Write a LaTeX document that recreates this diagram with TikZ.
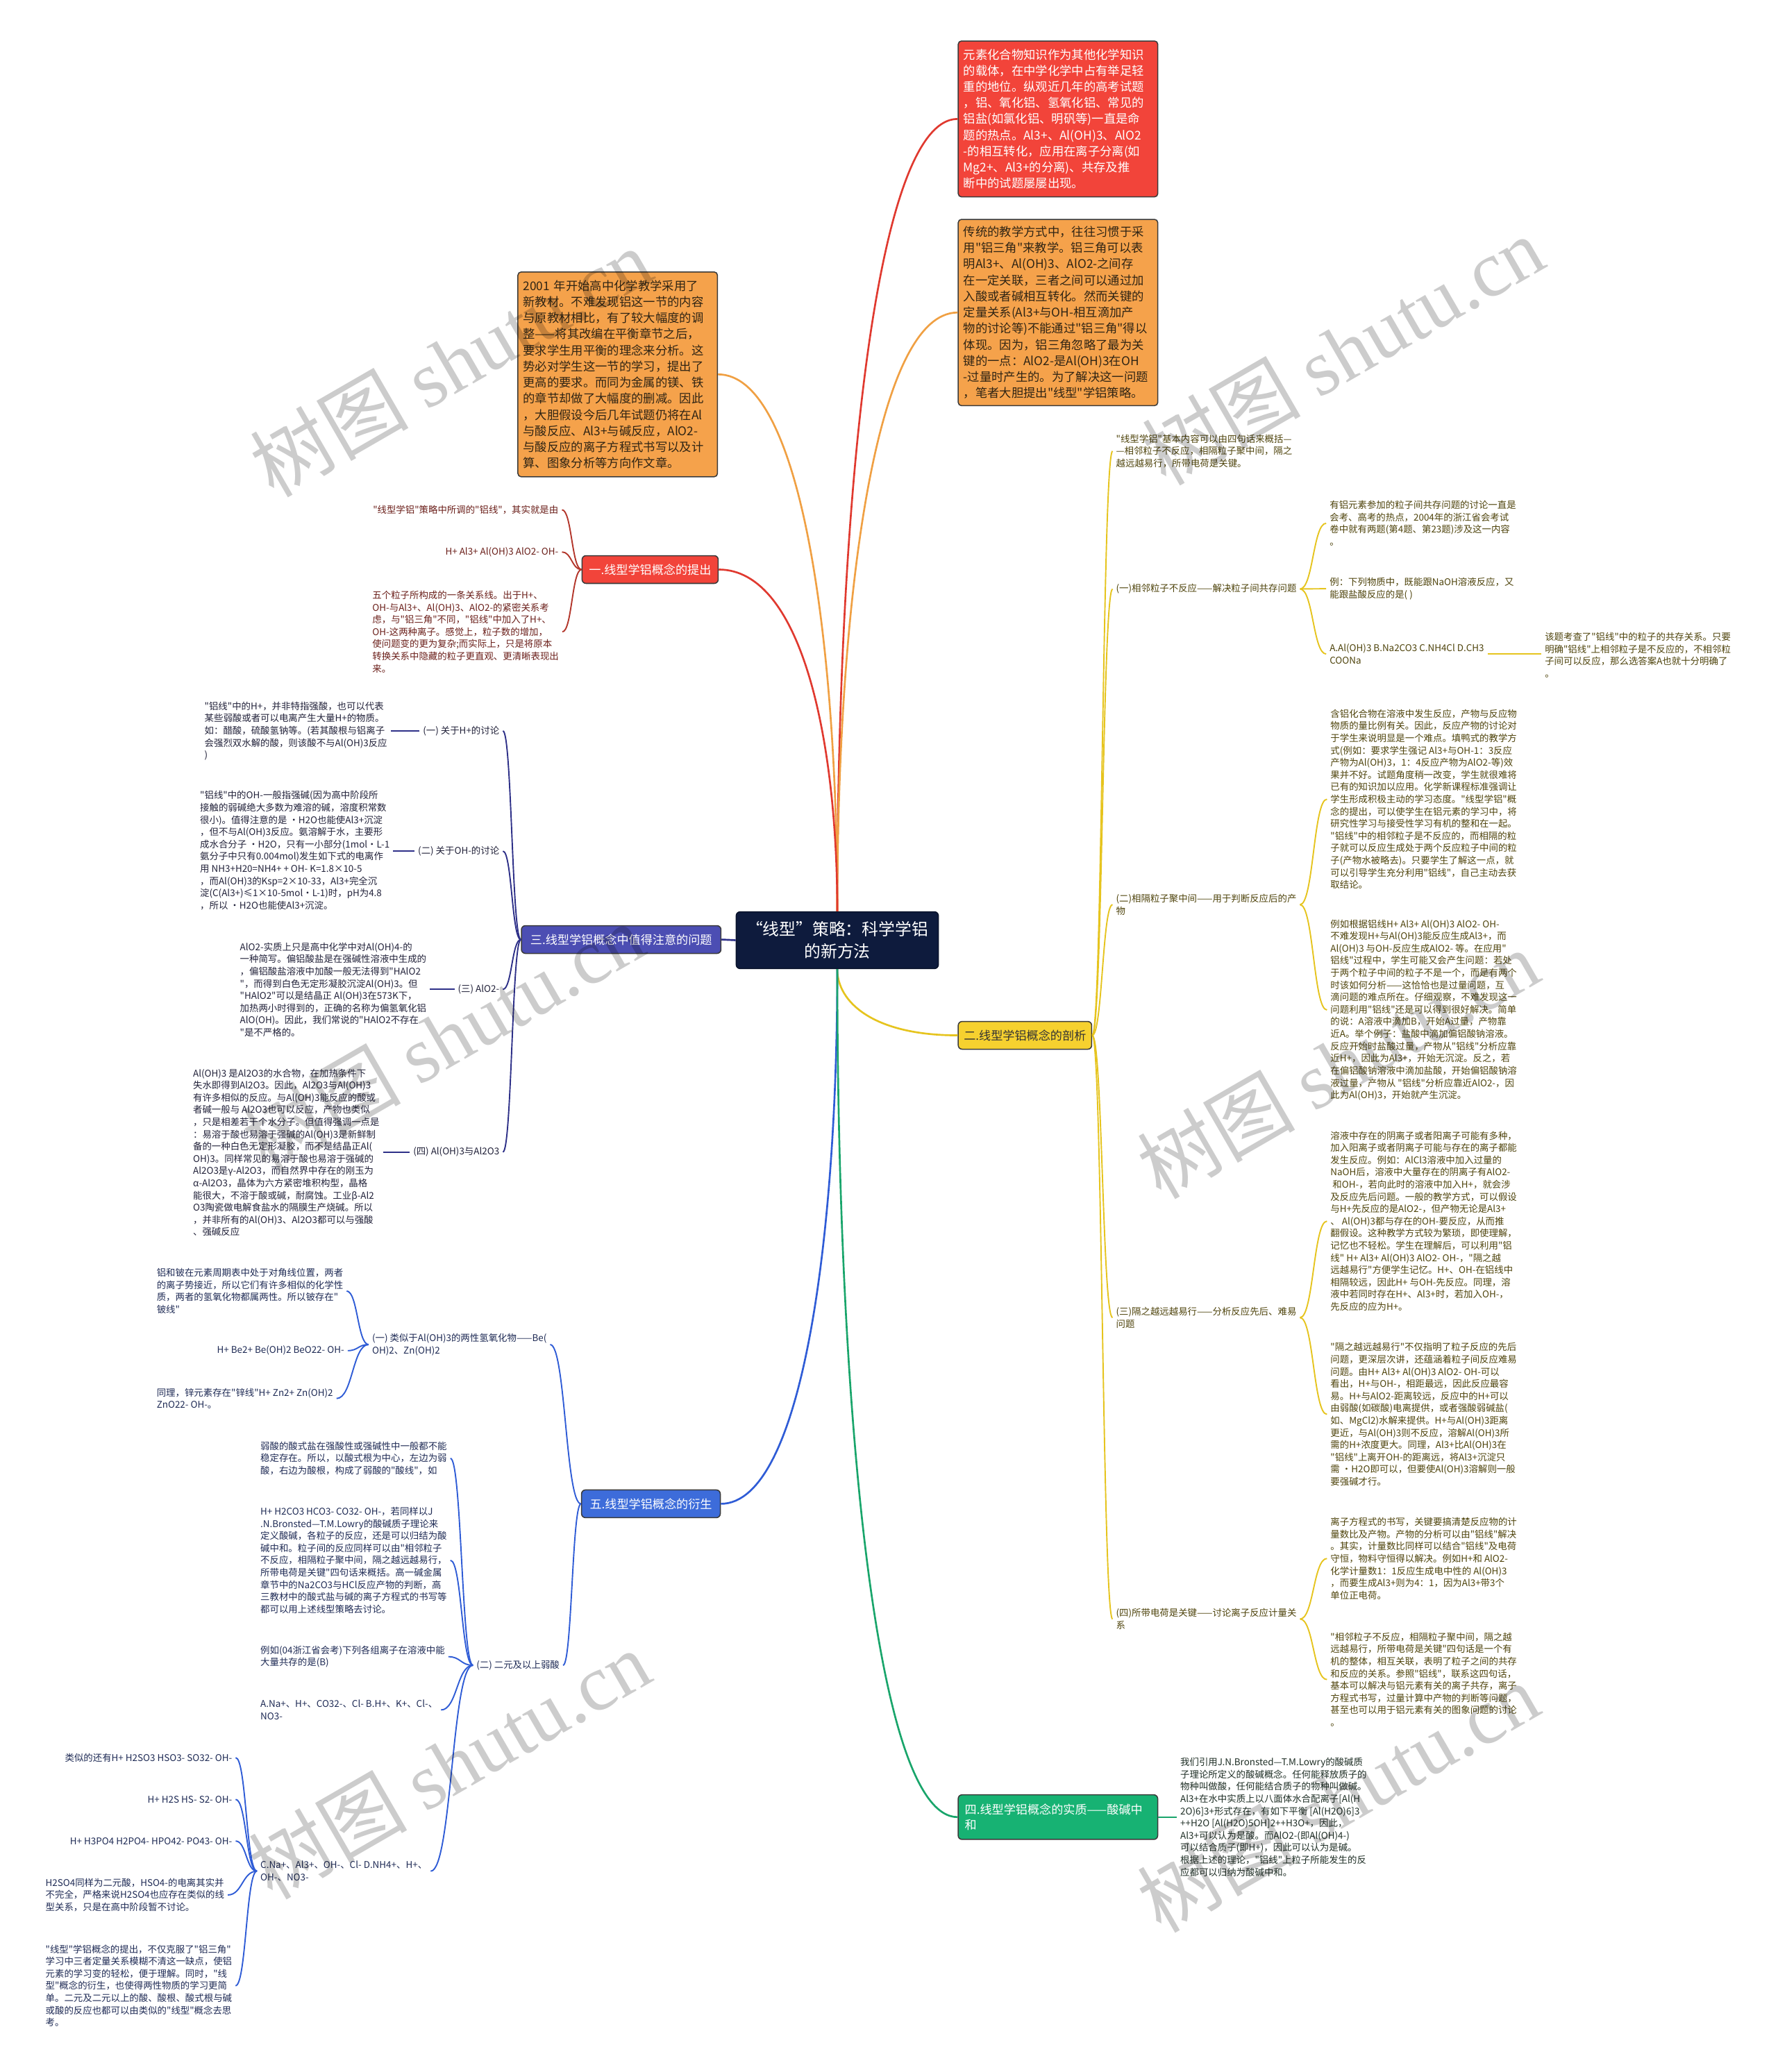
\documentclass[tikz,border=0pt]{standalone}
\usepackage{fontspec}
\setmainfont{Noto Sans CJK SC}[Ligatures=TeXOff]
\newfontfamily\wmlatin{Liberation Serif}
\usetikzlibrary{calc}
\definecolor{cred}{HTML}{F2443A}
\definecolor{credline}{HTML}{E0392F}
\definecolor{credleaf}{HTML}{B3362B}
\definecolor{credtxt}{HTML}{6B1F1A}
\definecolor{corange}{HTML}{F5A24B}
\definecolor{corline}{HTML}{F0A043}
\definecolor{ortxt}{HTML}{2F2414}
\definecolor{cnavy}{HTML}{2E3088}
\definecolor{cnavyfill}{HTML}{4C4EB3}
\definecolor{cblue}{HTML}{2F5CD6}
\definecolor{cbluefill}{HTML}{3D6CDA}
\definecolor{cyel}{HTML}{E6C41E}
\definecolor{cyelfill}{HTML}{F6D12F}
\definecolor{cyeltxt}{HTML}{4F440C}
\definecolor{cgreen}{HTML}{19A56B}
\definecolor{cgreenfill}{HTML}{17B273}
\definecolor{ccenter}{HTML}{0E1B3D}
\definecolor{boxline}{HTML}{3A3A3A}
\definecolor{darktxt}{HTML}{22223A}
\definecolor{bluetxt}{HTML}{1F2B55}
\definecolor{greentxt}{HTML}{1F2F26}
\newcommand{\leaffnt}{\fontsize{7.05}{9.25}\selectfont}
\newcommand{\boxfnt}{\fontsize{9.1}{12.2}\selectfont}
\newcommand{\brfnt}{\fontsize{9}{11.8}\selectfont}
\newcommand{\cfnt}{\fontsize{12.5}{16.5}\selectfont}
\tikzset{
  sc/.style={to path={let \p1=(\tikztostart), \p2=(\tikztotarget) in
     .. controls ({0.5*(\x1+\x2)},\y1) and ({0.5*(\x1+\x2)},\y2) .. (\tikztotarget) \tikztonodes}},
  vc/.style={to path={let \p1=(\tikztostart), \p2=(\tikztotarget) in
     .. controls (\x1,{\y1+0.5*(\y2-\y1)}) and ({\x1+0.3*(\x2-\x1)},\y2) .. (\tikztotarget) \tikztonodes}},
  mainline/.style={line width=1.4pt},
  subline/.style={line width=1.0pt},
  bigbox/.style={draw=boxline, line width=0.8pt, rounded corners=2.5pt, inner xsep=4pt, inner ysep=0pt,
     text width=143pt, align=left, font=\boxfnt},
  bnode/.style={draw=boxline, line width=0.8pt, rounded corners=3pt, inner xsep=4pt, inner ysep=0pt,
     minimum height=21pt, font=\brfnt},
  leaf/.style={inner xsep=2.5pt, inner ysep=1pt, align=left, font=\leaffnt},
  leafr/.style={leaf, text=credtxt},
  leafn/.style={leaf, text=darktxt},
  leafb/.style={leaf, text=bluetxt},
  leafy/.style={leaf, text=cyeltxt},
  leafg/.style={leaf, text=greentxt},
  wm/.style={text=black, text opacity=0.2, font=\fontsize{60}{60}\selectfont, inner sep=0pt, rotate=30},
}
\begin{document}
\begin{tikzpicture}[x=1pt,y=-1pt]
\fill[white] (0,0) rectangle (1345,1568);
\useasboundingbox (0,0) rectangle (1345,1568);

% ---------- centre ----------
\node[fill=ccenter, draw=ccenter!70!black, line width=0.8pt, rounded corners=3pt, minimum width=153pt,
      minimum height=43pt, inner sep=0pt, text=white, font=\cfnt, align=center] (c) at (633.5,711.5)
      {“线型”策略：科学学铝\\的新方法};

% ---------- top boxes ----------
\node[bigbox, fill=cred, text=white, minimum height=118pt] (rbox) at (800.5,90)
{元素化合物知识作为其他化学知识\\
的载体，在中学化学中占有举足轻\\
重的地位。纵观近几年的高考试题\\
，铝、氧化铝、氢氧化铝、常见的\\
铝盐(如氯化铝、明矾等)一直是命\\
题的热点。Al3+、Al(OH)3、AlO2\\
-的相互转化，应用在离子分离(如\\
Mg2+、Al3+的分离)、共存及推\\
断中的试题屡屡出现。};

\node[bigbox, fill=corange, text=ortxt, minimum height=141pt] (obox1) at (800.5,236.5)
{传统的教学方式中，往往习惯于采\\
用"铝三角"来教学。铝三角可以表\\
明Al3+、Al(OH)3、AlO2-之间存\\
在一定关联，三者之间可以通过加\\
入酸或者碱相互转化。然而关键的\\
定量关系(Al3+与OH-相互滴加产\\
物的讨论等)不能通过"铝三角"得以\\
体现。因为，铝三角忽略了最为关\\
键的一点：AlO2-是Al(OH)3在OH\\
-过量时产生的。为了解决这一问题\\
，笔者大胆提出"线型"学铝策略。};

\node[bigbox, fill=corange, text=ortxt, minimum height=155pt] (obox2) at (467.35,283.3)
{2001 年开始高中化学教学采用了\\
新教材。不难发现铝这一节的内容\\
与原教材相比，有了较大幅度的调\\
整——将其改编在平衡章节之后，\\
要求学生用平衡的理念来分析。这\\
势必对学生这一节的学习，提出了\\
更高的要求。而同为金属的镁、铁\\
的章节却做了大幅度的删减。因此\\
，大胆假设今后几年试题仍将在Al\\
与酸反应、Al3+与碱反应，AlO2-\\
与酸反应的离子方程式书写以及计\\
算、图象分析等方向作文章。};

% ---------- branch 1 ----------
\node[bnode, fill=cred, text=white, minimum width=103pt] (b1) at (491.9,431) {一.线型学铝概念的提出};
\node[leafr, anchor=east] (l1a) at (425.2,385.8) {"线型学铝"策略中所调的"铝线"，其实就是由};
\node[leafr, anchor=east] (l1b) at (425.2,417.7) {H+ Al3+ Al(OH)3 AlO2- OH-};
\node[leafr, anchor=west] (l1c) at (279.1,478.1)
{五个粒子所构成的一条关系线。出于H+、\\
OH-与Al3+、Al(OH)3、AlO2-的紧密关系考\\
虑，与"铝三角"不同，"铝线"中加入了H+、\\
OH-这两种离子。感觉上，粒子数的增加，\\
使问题变的更为复杂;而实际上，只是将原本\\
转换关系中隐藏的粒子更直观、更清晰表现出\\
来。};

% ---------- branch 3 ----------
\node[bnode, fill=cnavyfill, text=white, minimum width=151pt] (b3) at (470,711) {三.线型学铝概念中值得注意的问题};
\node[leafn, anchor=east] (s3a) at (380.5,553.1) {(一) 关于H+的讨论};
\node[leafn, anchor=east] (s3b) at (380.5,644.1) {(二) 关于OH-的讨论};
\node[leafn, anchor=east] (s3c) at (380.5,748.7) {(三) AlO2-};
\node[leafn, anchor=east] (s3d) at (380.5,871.8) {(四) Al(OH)3与Al2O3};
\node[leafn, anchor=west] (l3a) at (152.1,553.2)
{"铝线"中的H+，并非特指强酸，也可以代表\\
某些弱酸或者可以电离产生大量H+的物质。\\
如：醋酸，硫酸氢钠等。(若其酸根与铝离子\\
会强烈双水解的酸，则该酸不与Al(OH)3反应\\
)};
\node[leafn, anchor=west] (l3b) at (148.7,643.6)
{"铝线"中的OH-一般指强碱(因为高中阶段所\\
接触的弱碱绝大多数为难溶的碱，溶度积常数\\
很小)。值得注意的是 •H2O也能使Al3+沉淀\\
，但不与Al(OH)3反应。氨溶解于水，主要形\\
成水合分子 •H2O，只有一小部分(1mol•L-1\\
氨分子中只有0.004mol)发生如下式的电离作\\
用 NH3+H20=NH4+ + OH- K=1.8×10-5\\
，而Al(OH)3的Ksp=2×10-33，Al3+完全沉\\
淀(C(Al3+)≤1×10-5mol•L-1)时，pH为4.8\\
，所以 •H2O也能使Al3+沉淀。};
\node[leafn, anchor=west] (l3c) at (178.9,748.9)
{AlO2-实质上只是高中化学中对Al(OH)4-的\\
一种简写。偏铝酸盐是在强碱性溶液中生成的\\
，偏铝酸盐溶液中加酸一般无法得到"HAlO2\\
"，而得到白色无定形凝胶沉淀Al(OH)3。但\\
"HAlO2"可以是结晶正 Al(OH)3在573K下，\\
加热两小时得到的，正确的名称为偏氢氧化铝\\
AlO(OH)。因此，我们常说的"HAlO2不存在\\
"是不严格的。};
\node[leafn, anchor=west] (l3d) at (143.4,872.2)
{Al(OH)3 是Al2O3的水合物，在加热条件下\\
失水即得到Al2O3。因此，Al2O3与Al(OH)3\\
有许多相似的反应。与Al(OH)3能反应的酸或\\
者碱一般与 Al2O3也可以反应，产物也类似\\
，只是相差若干个水分子。但值得强调一点是\\
：易溶于酸也易溶于强碱的Al(OH)3是新鲜制\\
备的一种白色无定形凝胶，而不是结晶正Al(\\
OH)3。同样常见的易溶于酸也易溶于强碱的\\
Al2O3是γ-Al2O3，而自然界中存在的刚玉为\\
α-Al2O3，晶体为六方紧密堆积构型，晶格\\
能很大，不溶于酸或碱，耐腐蚀。工业β-Al2\\
O3陶瓷做电解食盐水的隔膜生产烧碱。所以\\
，并非所有的Al(OH)3、Al2O3都可以与强酸\\
、强碱反应};

% ---------- branch 5 ----------
\node[bnode, fill=cbluefill, text=white, minimum width=105pt] (b5) at (492.5,1138) {五.线型学铝概念的衍生};
\node[leafb, anchor=west] (s5a) at (278.9,1017.5) {(一) 类似于Al(OH)3的两性氢氧化物——Be(\\OH)2、Zn(OH)2};
\node[leafb, anchor=west] (l5a1) at (115.9,977)
{铝和铍在元素周期表中处于对角线位置，两者\\
的离子势接近，所以它们有许多相似的化学性\\
质，两者的氢氧化物都属两性。所以铍存在"\\
铍线"};
\node[leafb, anchor=east] (l5a2) at (263.1,1022.1) {H+ Be2+ Be(OH)2 BeO22- OH-};
\node[leafb, anchor=west] (l5a3) at (115.9,1058.3) {同理，锌元素存在"锌线"H+ Zn2+ Zn(OH)2\\ZnO22- OH-。};
\node[leafb, anchor=east] (s5b) at (426,1260.2) {(二) 二元及以上弱酸};
\node[leafb, anchor=west] (l5b1) at (194.4,1103.6)
{弱酸的酸式盐在强酸性或强碱性中一般都不能\\
稳定存在。所以，以酸式根为中心，左边为弱\\
酸，右边为酸根，构成了弱酸的"酸线"，如};
\node[leafb, anchor=west] (l5b2) at (194.4,1180.8)
{H+ H2CO3 HCO3- CO32- OH-，若同样以J\\
.N.Bronsted—T.M.Lowry的酸碱质子理论来\\
定义酸碱，各粒子的反应，还是可以归结为酸\\
碱中和。粒子间的反应同样可以由"相邻粒子\\
不反应，相隔粒子聚中间，隔之越远越易行，\\
所带电荷是关键"四句话来概括。高一碱金属\\
章节中的Na2CO3与HCl反应产物的判断，高\\
三教材中的酸式盐与碱的离子方程式的书写等\\
都可以用上述线型策略去讨论。};
\node[leafb, anchor=west] (l5b3) at (194.4,1253.7) {例如(04浙江省会考)下列各组离子在溶液中能\\大量共存的是(B)};
\node[leafb, anchor=west] (l5b4) at (194.4,1294) {A.Na+、H+、CO32-、Cl- B.H+、K+、Cl-、\\NO3-};
\node[leafb, anchor=west] (l5b5) at (194.4,1416) {C.Na+、Al3+、OH-、Cl- D.NH4+、H+、\\OH-、NO3-};
\node[leafb, anchor=east] (l5c1) at (178.3,1330.1) {类似的还有H+ H2SO3 HSO3- SO32- OH-};
\node[leafb, anchor=east] (l5c2) at (178.3,1361.7) {H+ H2S HS- S2- OH-};
\node[leafb, anchor=east] (l5c3) at (178.3,1393.2) {H+ H3PO4 H2PO4- HPO42- PO43- OH-};
\node[leafb, anchor=west] (l5c4) at (31.8,1434)
{H2SO4同样为二元酸，HSO4-的电离其实并\\
不完全，严格来说H2SO4也应存在类似的线\\
型关系，只是在高中阶段暂不讨论。};
\node[leafb, anchor=west] (l5c5) at (31.8,1502.7)
{"线型"学铝概念的提出，不仅克服了"铝三角"\\
学习中三者定量关系模糊不清这一缺点，使铝\\
元素的学习变的轻松，便于理解。同时，"线\\
型"概念的衍生，也使得两性物质的学习更简\\
单。二元及二元以上的酸、酸根、酸式根与碱\\
或酸的反应也都可以由类似的"线型"概念去思\\
考。};

% ---------- branch 2 ----------
\node[bnode, fill=cyelfill, text=black!80, minimum width=101pt] (b2) at (775.5,783.5) {二.线型学铝概念的剖析};
\node[leafy, anchor=west] (s2a) at (841.8,341.4)
{"线型学铝"基本内容可以由四句话来概括—\\
—相邻粒子不反应，相隔粒子聚中间，隔之\\
越远越易行，所带电荷是关键。};
\node[leafy, anchor=west] (s2b) at (841.8,445.7) {(一)相邻粒子不反应——解决粒子间共存问题};
\node[leafy, anchor=west] (s2c) at (841.8,684.6) {(二)相隔粒子聚中间——用于判断反应后的产\\物};
\node[leafy, anchor=west] (s2d) at (841.8,997.1) {(三)隔之越远越易行——分析反应先后、难易\\问题};
\node[leafy, anchor=west] (s2e) at (841.8,1225.2) {(四)所带电荷是关键——讨论离子反应计量关\\系};
\node[leafy, anchor=west] (l2b1) at (1003.4,396)
{有铝元素参加的粒子间共存问题的讨论一直是\\
会考、高考的热点，2004年的浙江省会考试\\
卷中就有两题(第4题、第23题)涉及这一内容\\
。};
\node[leafy, anchor=west] (l2b2) at (1003.4,445.5) {例：下列物质中，既能跟NaOH溶液反应，又\\能跟盐酸反应的是( )};
\node[leafy, anchor=west] (l2b3) at (1003.4,494.9) {A.Al(OH)3 B.Na2CO3 C.NH4Cl D.CH3\\COONa};
\node[leafy, anchor=west] (l2b3x) at (1166.2,495.7)
{该题考查了"铝线"中的粒子的共存关系。只要\\
明确"铝线"上相邻粒子是不反应的，不相邻粒\\
子间可以反应，那么选答案A也就十分明确了\\
。};
\node[leafy, anchor=west] (l2c1) at (1004,604.8)
{含铝化合物在溶液中发生反应，产物与反应物\\
物质的量比例有关。因此，反应产物的讨论对\\
于学生来说明显是一个难点。填鸭式的教学方\\
式(例如：要求学生强记 Al3+与OH-1：3反应\\
产物为Al(OH)3，1：4反应产物为AlO2-等)效\\
果并不好。试题角度稍一改变，学生就很难将\\
已有的知识加以应用。化学新课程标准强调让\\
学生形成积极主动的学习态度。"线型学铝"概\\
念的提出，可以使学生在铝元素的学习中，将\\
研究性学习与接受性学习有机的整和在一起。\\
"铝线"中的相邻粒子是不反应的，而相隔的粒\\
子就可以反应生成处于两个反应粒子中间的粒\\
子(产物水被略去)。只要学生了解这一点，就\\
可以引导学生充分利用"铝线"，自己主动去获\\
取结论。};
\node[leafy, anchor=west] (l2c2) at (1004,764.3)
{例如根据铝线H+ Al3+ Al(OH)3 AlO2- OH-\\
不难发现H+与Al(OH)3能反应生成Al3+，而\\
Al(OH)3 与OH-反应生成AlO2- 等。在应用"\\
铝线"过程中，学生可能又会产生问题：若处\\
于两个粒子中间的粒子不是一个，而是有两个\\
时该如何分析——这恰恰也是过量问题，互\\
滴问题的难点所在。仔细观察，不难发现这一\\
问题利用"铝线"还是可以得到很好解决。简单\\
的说：A溶液中滴加B，开始A过量，产物靠\\
近A。举个例子：盐酸中滴加偏铝酸钠溶液。\\
反应开始时盐酸过量，产物从"铝线"分析应靠\\
近H+，因此为Al3+，开始无沉淀。反之，若\\
在偏铝酸钠溶液中滴加盐酸，开始偏铝酸钠溶\\
液过量，产物从 "铝线"分析应靠近AlO2-，因\\
此为Al(OH)3，开始就产生沉淀。};
\node[leafy, anchor=west] (l2d1) at (1004,924.1)
{溶液中存在的阴离子或者阳离子可能有多种，\\
加入阳离子或者阴离子可能与存在的离子都能\\
发生反应。例如：AlCl3溶液中加入过量的\\
NaOH后，溶液中大量存在的阴离子有AlO2-\\
\ 和OH-，若向此时的溶液中加入H+，就会涉\\
及反应先后问题。一般的教学方式，可以假设\\
与H+先反应的是AlO2-，但产物无论是Al3+\\
、 Al(OH)3都与存在的OH-要反应，从而推\\
翻假设。这种教学方式较为繁琐，即使理解，\\
记忆也不轻松。学生在理解后，可以利用"铝\\
线" H+ Al3+ Al(OH)3 AlO2- OH-，"隔之越\\
远越易行"方便学生记忆。H+、OH-在铝线中\\
相隔较远，因此H+ 与OH-先反应。同理，溶\\
液中若同时存在H+、Al3+时，若加入OH-，\\
先反应的应为H+。};
\node[leafy, anchor=west] (l2d2) at (1004,1070.3)
{"隔之越远越易行"不仅指明了粒子反应的先后\\
问题，更深层次讲，还蕴涵着粒子间反应难易\\
问题。由H+ Al3+ Al(OH)3 AlO2- OH-可以\\
看出，H+与OH-，相距最远，因此反应最容\\
易。H+与AlO2-距离较远，反应中的H+可以\\
由弱酸(如碳酸)电离提供，或者强酸弱碱盐(\\
如、MgCl2)水解来提供。H+与Al(OH)3距离\\
更近，与Al(OH)3则不反应，溶解Al(OH)3所\\
需的H+浓度更大。同理，Al3+比Al(OH)3在\\
"铝线"上离开OH-的距离远，将Al3+沉淀只\\
需 •H2O即可以，但要使Al(OH)3溶解则一般\\
要强碱才行。};
\node[leafy, anchor=west] (l2e1) at (1004,1179.4)
{离子方程式的书写，关键要搞清楚反应物的计\\
量数比及产物。产物的分析可以由"铝线"解决\\
。其实，计量数比同样可以结合"铝线"及电荷\\
守恒，物料守恒得以解决。例如H+和 AlO2-\\
化学计量数1：1反应生成电中性的 Al(OH)3\\
，而要生成Al3+则为4：1，因为Al3+带3个\\
单位正电荷。};
\node[leafy, anchor=west] (l2e2) at (1004,1271)
{"相邻粒子不反应，相隔粒子聚中间，隔之越\\
远越易行，所带电荷是关键"四句话是一个有\\
机的整体，相互关联，表明了粒子之间的共存\\
和反应的关系。参照"铝线"，联系这四句话，\\
基本可以解决与铝元素有关的离子共存，离子\\
方程式书写，过量计算中产物的判断等问题，\\
甚至也可以用于铝元素有关的图象问题的讨论\\
。};

% ---------- branch 4 ----------
\node[bnode, fill=cgreenfill, text=white, text width=141pt, align=left, minimum height=33.8pt,
      inner xsep=5pt] (b4) at (800.45,1375.1) {四.线型学铝概念的实质——酸碱中\\和};
\node[leafg, anchor=west] (l4) at (890.4,1375.1)
{我们引用J.N.Bronsted—T.M.Lowry的酸碱质\\
子理论所定义的酸碱概念。任何能释放质子的\\
物种叫做酸，任何能结合质子的物种叫做碱。\\
Al3+在水中实质上以八面体水合配离子[Al(H\\
2O)6]3+形式存在，有如下平衡 [Al(H2O)6]3\\
++H2O [Al(H2O)5OH]2++H3O+，因此，\\
Al3+可以认为是酸。而AlO2-(即Al(OH)4-)\\
可以结合质子(即H+)，因此可以认为是碱。\\
根据上述的理论，"铝线"上粒子所能发生的反\\
应都可以归纳为酸碱中和。};

% ---------- connectors from centre ----------
\draw[mainline, credline] (c.north) to[vc] (rbox.west);
\draw[mainline, corline] (c.north) to[vc] (obox1.west);
\draw[mainline, corline] (c.north) to[vc] (obox2.east);
\draw[mainline, credline] (c.north) to[vc] (b1.east);
\draw[mainline, cnavy] (c.west) -- (b3.east);
\draw[mainline, cyel] (c.south) to[vc] (b2.west);
\draw[mainline, cblue] (c.south) to[vc] (b5.east);
\draw[mainline, cgreen] (c.south) to[vc] (b4.west);

% ---------- branch 1 connectors ----------
\foreach \t in {l1a,l1b,l1c} \draw[subline, credleaf] (b1.west) to[sc] (\t.east);

% ---------- branch 3 connectors ----------
\foreach \t in {s3a,s3b,s3c,s3d} \draw[subline, cnavy] (b3.west) to[sc] (\t.east);
\draw[subline, cnavy] (s3a.west) -- (s3a.west -| l3a.east);
\draw[subline, cnavy] (s3b.west) -- (s3b.west -| l3b.east);
\draw[subline, cnavy] (s3c.west) -- (s3c.west -| l3c.east);
\draw[subline, cnavy] (s3d.west) -- (s3d.west -| l3d.east);

% ---------- branch 5 connectors ----------
\draw[subline, cblue] (b5.west) to[sc] (s5a.east);
\draw[subline, cblue] (b5.west) to[sc] (s5b.east);
\foreach \t in {l5a1,l5a2,l5a3} \draw[subline, cblue] (s5a.west) to[sc] (\t.east);
\foreach \t in {l5b1,l5b2,l5b3,l5b4,l5b5} \draw[subline, cblue] (s5b.west) to[sc] (\t.east);
\foreach \t in {l5c1,l5c2,l5c3,l5c4,l5c5} \draw[subline, cblue] (l5b5.west) to[sc] (\t.east);

% ---------- branch 2 connectors ----------
\foreach \t in {s2a,s2b,s2c,s2d,s2e} \draw[subline, cyel] (b2.east) to[sc] (\t.west);
\foreach \t in {l2b1,l2b2,l2b3} \draw[subline, cyel] (s2b.east) to[sc] (\t.west);
\draw[subline, cyel] (l2b3.east) -- (l2b3x.west |- l2b3.east);
\foreach \t in {l2c1,l2c2} \draw[subline, cyel] (s2c.east) to[sc] (\t.west);
\foreach \t in {l2d1,l2d2} \draw[subline, cyel] (s2d.east) to[sc] (\t.west);
\foreach \t in {l2e1,l2e2} \draw[subline, cyel] (s2e.east) to[sc] (\t.west);

% ---------- branch 4 connector ----------
\draw[subline, cgreen] (b4.east) -- (b4.east -| l4.west);

% ---------- watermarks ----------
\node[wm] (w1) at (341,274) {树图 {\wmlatin shutu.cn}};
\node[wm] (w2) at (1016,265) {树图 {\wmlatin shutu.cn}};
\node[wm] (w3) at (335,785) {树图 {\wmlatin shutu.cn}};
\node[wm] (w4) at (1012,805) {树图 {\wmlatin shutu.cn}};
\node[wm] (w5) at (340,1335) {树图 {\wmlatin shutu.cn}};
\node[wm] (w6) at (1012,1360) {树图 {\wmlatin shutu.cn}};
\end{tikzpicture}
\end{document}
